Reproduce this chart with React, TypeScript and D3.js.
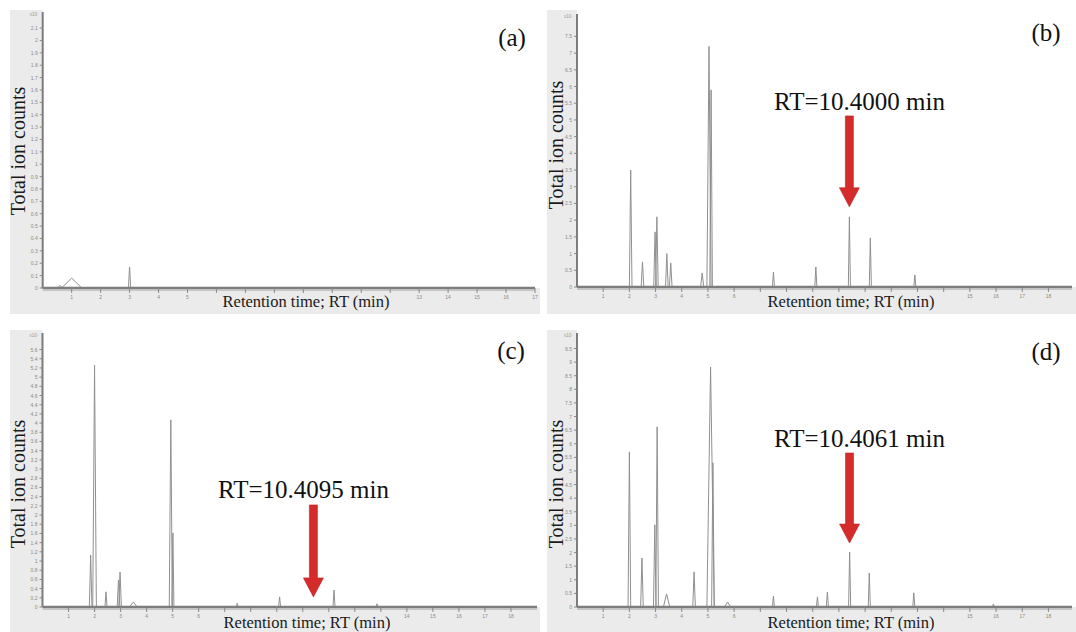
import * as d3 from "d3";

// peaks: [retention time (min), height, half width (min)]
const peaksA = [
  [0.6, 0.02, 0.1],
  [1.0, 0.08, 0.35],
  [3.0, 0.17, 0.04],
];
const peaksB = [
  [2.05, 3.5, 0.05],
  [2.5, 0.75, 0.05],
  [2.98, 1.65, 0.05],
  [3.05, 2.1, 0.05],
  [3.43, 1.0, 0.05],
  [3.58, 0.72, 0.05],
  [4.78, 0.42, 0.06],
  [5.04, 7.2, 0.08],
  [5.12, 5.9, 0.05],
  [7.5, 0.45, 0.04],
  [9.12, 0.6, 0.04],
  [10.4, 2.1, 0.04],
  [11.2, 1.47, 0.04],
  [12.9, 0.36, 0.04],
];
const peaksC = [
  [1.85, 1.13, 0.05],
  [2.0, 5.26, 0.07],
  [2.44, 0.33, 0.04],
  [2.92, 0.59, 0.05],
  [2.98, 0.76, 0.05],
  [3.49, 0.11, 0.15],
  [4.93, 4.07, 0.06],
  [5.01, 1.61, 0.04],
  [7.48, 0.08, 0.03],
  [9.11, 0.22, 0.04],
  [11.2, 0.37, 0.04],
  [12.85, 0.07, 0.04],
];
const peaksD = [
  [2.0, 5.7, 0.05],
  [2.48, 1.8, 0.05],
  [2.97, 3.02, 0.05],
  [3.06, 6.62, 0.05],
  [3.42, 0.48, 0.12],
  [4.47, 1.29, 0.05],
  [5.1, 8.82, 0.14],
  [5.19, 5.3, 0.05],
  [5.75, 0.18, 0.12],
  [7.5, 0.4, 0.04],
  [9.18, 0.37, 0.04],
  [9.56, 0.55, 0.04],
  [10.41, 2.02, 0.04],
  [11.16, 1.25, 0.04],
  [12.86, 0.52, 0.04],
  [15.9, 0.11, 0.04],
];

const xTicks17 = [1, 2, 3, 4, 5, 6, 7, 8, 9, 10, 11, 12, 13, 14, 15, 16, 17];
const xTicks18 = [1, 2, 3, 4, 5, 6, 7, 8, 9, 10, 11, 12, 13, 14, 15, 16, 17, 18];
const yTicksA = [0, 0.1, 0.2, 0.3, 0.4, 0.5, 0.6, 0.7, 0.8, 0.9, 1, 1.1, 1.2, 1.3, 1.4, 1.5, 1.6, 1.7, 1.8, 1.9, 2, 2.1];
const yTicksB = [0, 0.5, 1, 1.5, 2, 2.5, 3, 3.5, 4, 4.5, 5, 5.5, 6, 6.5, 7, 7.5];
const yTicksC = [0, 0.2, 0.4, 0.6, 0.8, 1, 1.2, 1.4, 1.6, 1.8, 2, 2.2, 2.4, 2.6, 2.8, 3, 3.2, 3.4, 3.6, 3.8, 4, 4.2, 4.4, 4.6, 4.8, 5, 5.2, 5.4, 5.6];
const yTicksD = [0, 0.5, 1, 1.5, 2, 2.5, 3, 3.5, 4, 4.5, 5, 5.5, 6, 6.5, 7, 7.5, 8, 8.5, 9, 9.5];

const panelLabels = ["(a)", "(b)", "(c)", "(d)"];
const rtLabels = [null, "RT=10.4000 min", "RT=10.4095 min", "RT=10.4061 min"];
const arrowRT = [null, 10.4, 10.4095, 10.4061];
// arrow [tail, tip] in y units of each panel
const arrowY = [null, [5.12, 2.4], [2.22, 0.22], [5.66, 2.35]];

const serif = "'Liberation Serif', 'Times New Roman', serif";
const sans = "'Liberation Sans', Arial, sans-serif";

const panels = [
  { peaks: peaksA, xTicks: xTicks17, yTicks: yTicksA, xMax: 17, yMax: 2.23, box: [10, 10, 540, 314], plot: [42.7, 535, 12, 288], yTitle: [18, 151], xTitle: [306, 307], label: [512, 46], rt: null },
  { peaks: peaksB, xTicks: xTicks18, yTicks: yTicksB, xMax: 18.9, yMax: 8.17, box: [547, 10, 1076, 314], plot: [577, 1072, 14, 287], yTitle: [556, 145], xTitle: [851, 307], label: [1046, 41], rt: [774, 110] },
  { peaks: peaksC, xTicks: xTicks18, yTicks: yTicksC, xMax: 19, yMax: 5.96, box: [10, 330, 540, 632], plot: [42.5, 537, 333, 607], yTitle: [18, 484], xTitle: [307, 628], label: [511, 359], rt: [218, 498] },
  { peaks: peaksD, xTicks: xTicks18, yTicks: yTicksD, xMax: 18.9, yMax: 10.07, box: [547, 330, 1076, 632], plot: [577, 1072, 333, 607], yTitle: [556, 484], xTitle: [851, 628], label: [1046, 360], rt: [774, 447] },
];

function Panel({ p, i }: { p: any; i: number }) {
  const [l, r, t, b] = p.plot;
  const x = d3.scaleLinear().domain([0, p.xMax]).range([l, r]);
  const y = d3.scaleLinear().domain([0, p.yMax]).range([b, t]);
  const line = d3.line<number[]>().x(d => x(d[0])).y(d => y(d[1]));
  const [bx0, by0, bx1, by1] = p.box;
  const fmt = (v: number) => (Number.isInteger(v) ? String(v) : v.toFixed(1));

  let arrow = null;
  if (arrowRT[i] != null) {
    const ax = x(arrowRT[i] as number);
    const [yTail, yTip] = arrowY[i] as number[];
    const top = y(yTail), tip = y(yTip), head = tip - 19;
    const path = `M${ax - 4},${top}L${ax + 4},${top}L${ax + 4},${head}L${ax + 10},${head}L${ax},${tip}L${ax - 10},${head}L${ax - 4},${head}Z`;
    arrow = <path d={path} fill="#d42b2b" stroke="#c22222" strokeWidth={0.6} />;
  }

  return (
    <g>
      <rect x={bx0} y={by0} width={bx1 - bx0} height={by1 - by0} fill="#ebebeb" />
      <rect x={l} y={by0} width={bx1 - l} height={b - by0} fill="#ffffff" />
      {/* baseline of chromatogram */}
      <line x1={x(0)} x2={x(p.xMax)} y1={y(0) - 1} y2={y(0) - 1} stroke="#a8a8a8" strokeWidth={0.8} />
      {p.peaks.map((pk: number[], k: number) => (
        <path key={k} d={line([[pk[0] - pk[2], 0], [pk[0], pk[1]], [pk[0] + pk[2], 0]]) || ""}
          fill="none" stroke="#909090" strokeWidth={1} />
      ))}
      {/* axes */}
      <line x1={l} x2={r} y1={b + 2} y2={b + 2} stroke="#c4c4c4" strokeWidth={2} />
      <line x1={l} x2={r} y1={b} y2={b} stroke="#7d7d7d" strokeWidth={2} />
      <line x1={l} x2={l} y1={t} y2={b} stroke="#7d7d7d" strokeWidth={2} />
      {p.xTicks.map((v: number) => (
        <g key={"x" + v}>
          <line x1={x(v)} x2={x(v)} y1={b} y2={b + 5} stroke="#888" strokeWidth={1} />
          {Math.abs(x(v) - p.xTitle[0]) > 96 && (
            <text x={x(v)} y={b + 11} fontSize={5} fill="#888" textAnchor="middle" fontFamily={sans}>{v}</text>
          )}
        </g>
      ))}
      {p.yTicks.map((v: number) => (
        <g key={"y" + v}>
          <line x1={l - 3} x2={l} y1={y(v)} y2={y(v)} stroke="#888" strokeWidth={1} />
          <text x={l - 5} y={y(v) + 2} fontSize={5} fill="#888" textAnchor="end" fontFamily={sans}>{fmt(v)}</text>
        </g>
      ))}
      <text x={l - 4} y={t + 4} fontSize={4.5} fill="#999" textAnchor="end" fontFamily={sans}>x10⁷</text>
      <text transform={`translate(${p.yTitle[0] + 7},${p.yTitle[1]}) rotate(-90)`} textAnchor="middle"
        fontSize={20} fontFamily={serif} fill="#1a1a1a">Total ion counts</text>
      <text x={p.xTitle[0]} y={p.xTitle[1]} textAnchor="middle" fontSize={16.5} fontFamily={serif} fill="#1a1a1a">
        Retention time; RT (min)
      </text>
      <text x={p.label[0]} y={p.label[1]} textAnchor="middle" fontSize={25} fontFamily={serif} fill="#111">{panelLabels[i]}</text>
      {p.rt && (
        <text x={p.rt[0]} y={p.rt[1]} fontSize={25} fontFamily={serif} fill="#111">{rtLabels[i]}</text>
      )}
      {arrow}
    </g>
  );
}

export default function App() {
  return (
    <>
      <style>{`body{margin:0;background:#fff}`}</style>
      <svg width={1076} height={632} style={{ display: "block" }}>
        <rect width={1076} height={632} fill="#fff" />
        {panels.map((p, i) => <Panel key={i} p={p} i={i} />)}
      </svg>
    </>
  );
}
